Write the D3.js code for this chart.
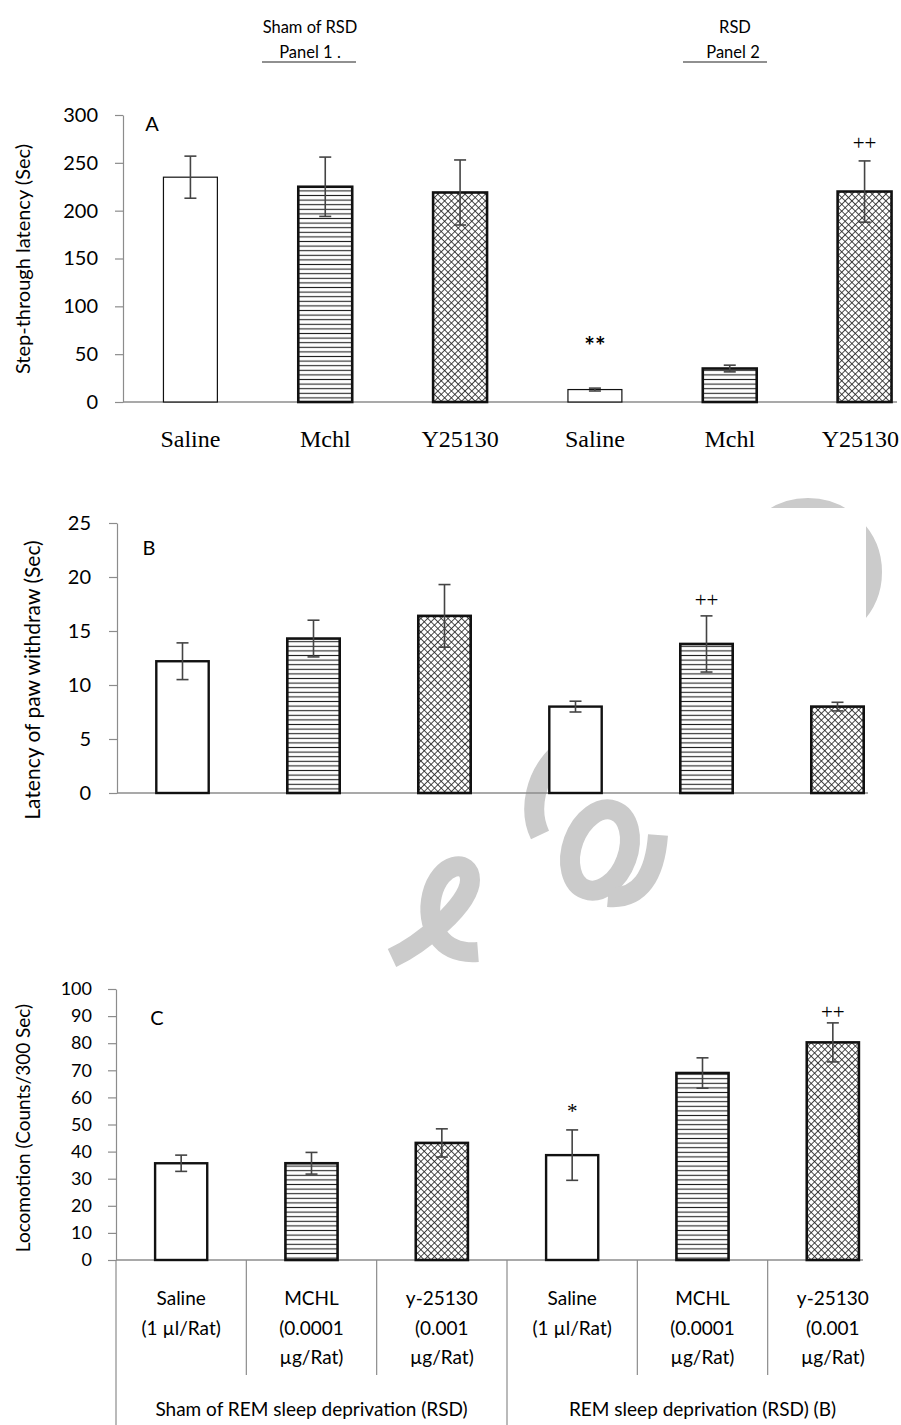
<!DOCTYPE html>
<html>
<head>
<meta charset="utf-8">
<script src="https://cdn.jsdelivr.net/npm/d3@7"></script>
<style>
  body { margin: 0; background: #fff; }
  text { fill: #000; }
</style>
</head>
<body>
<script>
// ---- data ----
const groupHeads = ["Sham of RSD", "RSD"];
const panelHeads = ["Panel 1", "Panel 2"];
const barKeys = ["sham-saline", "sham-mchl", "sham-y", "rsd-saline", "rsd-mchl", "rsd-y"];
const barFills = ["white", "hlines", "cross", "white", "hlines", "cross"];

// A: step-through latency
const latencyLabels = ["Saline", "Mchl", "Y25130", "Saline", "Mchl", "Y25130"];
const latencyMean = [235, 225, 219, 13, 35, 220];
const latencyErr = [22, 31, 34, 1.5, 3.5, 32];
const latencySig = ["", "", "", "**", "", "++"];
const latencySigAt = [0, 0, 0, 58, 0, 271];
const latencyTicks = [0, 50, 100, 150, 200, 250, 300];

// B: paw withdraw latency
const pawMean = [12.2, 14.3, 16.4, 8.0, 13.8, 8.0];
const pawErr = [1.7, 1.7, 2.9, 0.5, 2.6, 0.4];
const pawSig = ["", "", "", "", "++", ""];
const pawSigAt = [0, 0, 0, 0, 17.9, 0];
const pawTicks = [0, 5, 10, 15, 20, 25];

// C: locomotion
const locoLabels = [
  ["Saline", "(1 µl/Rat)"], ["MCHL", "(0.0001", "µg/Rat)"], ["y-25130", "(0.001", "µg/Rat)"],
  ["Saline", "(1 µl/Rat)"], ["MCHL", "(0.0001", "µg/Rat)"], ["y-25130", "(0.001", "µg/Rat)"]
];
const locoGroups = ["Sham of REM sleep deprivation (RSD)", "REM sleep deprivation (RSD) (B)"];
const locoMean = [35.7, 35.7, 43.2, 38.7, 69, 80.3];
const locoErr = [3, 4, 5.2, 9.3, 5.6, 7.2];
const locoSig = ["", "", "", "*", "", "++"];
const locoSigAt = [0, 0, 0, 55, 0, 91.5];
const locoTicks = d3.range(0, 101, 10);

const sans = "Lato, 'Open Sans', sans-serif";
const serif = "'Liberation Serif', 'Times New Roman', serif";

const svg = d3.select("body").append("svg")
    .attr("width", 901)
    .attr("height", 1425);

// patterns
const defs = svg.append("defs");
const hl = defs.append("pattern").attr("id", "hlines")
    .attr("patternUnits", "userSpaceOnUse").attr("width", 8).attr("height", 4.6);
hl.append("rect").attr("width", 8).attr("height", 4.6).attr("fill", "white");
hl.append("line").attr("x1", 0).attr("x2", 8).attr("y1", 2.3).attr("y2", 2.3)
    .attr("stroke", "#222").attr("stroke-width", 1.1);

const cr = defs.append("pattern").attr("id", "cross")
    .attr("patternUnits", "userSpaceOnUse").attr("width", 4.8).attr("height", 4.8)
    .attr("patternTransform", "rotate(45)");
cr.append("rect").attr("width", 4.8).attr("height", 4.8).attr("fill", "white");
cr.append("path").attr("d", "M0,0.4 H4.8 M0.4,0 V4.8")
    .attr("stroke", "#222").attr("stroke-width", 0.9);

const fillOf = f => f === "white" ? "white" : `url(#${f})`;

// ---- watermark (light grey letters behind the charts) ----
const wm = svg.append("g").attr("fill", "none").attr("stroke", "#cbcbcb").attr("stroke-width", 20);
wm.append("circle").attr("cx", 808).attr("cy", 572).attr("r", 64);
wm.append("path").attr("d", "M392,958 C420,945 470,905 470,880 C470,858 440,862 432,895 C425,925 440,955 478,952");
wm.append("path").attr("d", "M560,752 C535,775 528,810 540,835");
wm.append("ellipse").attr("cx", 600).attr("cy", 850).attr("rx", 28).attr("ry", 42)
    .attr("transform", "rotate(20,600,850)");
wm.append("path").attr("d", "M658,835 C655,875 640,900 608,897");
// chart area of B covers most of the big arc
svg.append("rect").attr("x", 100).attr("y", 508).attr("width", 766).attr("height", 236).attr("fill", "white");

// ---- header ----
const head = svg.append("g").attr("font-family", sans).attr("font-size", 16.5).attr("text-anchor", "middle");
const headX = [310, 735];
head.selectAll(".g").data(groupHeads).join("text")
    .attr("x", (d, i) => headX[i]).attr("y", 33).text(d => d);
head.selectAll(".p").data(panelHeads).join("text")
    .attr("x", (d, i) => headX[i] + (i ? -2 : 0)).attr("y", 58)
    .text((d, i) => i ? d : d + "   .");
head.selectAll("line").data(panelHeads).join("line")
    .attr("x1", (d, i) => headX[i] - (i ? 52 : 48)).attr("x2", (d, i) => headX[i] + (i ? 32 : 46))
    .attr("y1", 62).attr("y2", 62).attr("stroke", "#222").attr("stroke-width", 1.2);

// ---- generic bar panel ----
function drawPanel(p) {
  const g = svg.append("g");
  const y = d3.scaleLinear().domain([0, p.ticks[p.ticks.length - 1]]).range([p.y0, p.y1]);
  const x = d3.scaleBand().domain(barKeys).range([p.x0, p.x1]).paddingInner(0.6).paddingOuter(0.3);

  const yAxis = g.append("g").attr("transform", `translate(${p.x0},0)`)
      .call(d3.axisLeft(y).tickValues(p.ticks).tickSize(8).tickPadding(p.pad).tickSizeOuter(0));
  yAxis.selectAll("line").attr("stroke", "#8c8c8c").attr("stroke-width", 1.2);
  yAxis.select(".domain").attr("stroke", "#8c8c8c").attr("stroke-width", 1.2);
  yAxis.selectAll("text").attr("font-family", sans).attr("font-size", p.tickFont).attr("fill", "#222");

  // x axis line
  g.append("line").attr("x1", p.x0).attr("x2", p.xEnd).attr("y1", y(0)).attr("y2", y(0))
      .attr("stroke", "#8c8c8c").attr("stroke-width", 1.5);

  g.selectAll(".bar").data(p.values).join("rect")
      .attr("x", (d, i) => x(barKeys[i]))
      .attr("width", x.bandwidth())
      .attr("y", d => y(d))
      .attr("height", d => y(0) - y(d))
      .attr("fill", (d, i) => fillOf(barFills[i]))
      .attr("stroke", "#111")
      .attr("stroke-width", (d, i) => barFills[i] === "white" ? p.plainStroke : 2.6);

  const cx = i => x(barKeys[i]) + x.bandwidth() / 2;
  const err = g.append("g").attr("stroke", "#444").attr("stroke-width", 1.6);
  p.values.forEach((v, i) => {
    const e = p.errors[i];
    err.append("line").attr("x1", cx(i)).attr("x2", cx(i)).attr("y1", y(v + e)).attr("y2", y(v - e));
    [v + e, v - e].forEach(t => err.append("line")
        .attr("x1", cx(i) - 6).attr("x2", cx(i) + 6).attr("y1", y(t)).attr("y2", y(t)));
  });

  // significance marks
  const marks = p.sig.map((s, i) => ({ s, i, at: p.sigAt[i] })).filter(d => d.s !== "");
  g.selectAll(".sig").data(marks).join("text")
      .attr("x", d => cx(d.i))
      .attr("y", d => y(d.at))
      .attr("dy", "0.35em")
      .attr("text-anchor", "middle")
      .attr("font-family", d => d.s === "**" ? sans : serif)
      .attr("font-size", d => d.s === "**" ? 25 : 21)
      .attr("font-weight", d => d.s === "**" ? "bold" : "normal")
      .attr("fill", d => d.s === "**" ? "#000" : "#333")
      .text(d => d.s);

  g.append("text").attr("x", p.x0 + p.letterDx).attr("y", p.y1 + p.letterDy).attr("dy", "0.35em")
      .attr("text-anchor", "middle").attr("font-family", sans).attr("font-size", 20).attr("fill", "#222")
      .text(p.letter);

  g.append("text").attr("transform", `translate(${p.titleX},${p.titleY}) rotate(-90)`)
      .attr("dy", "0.35em").attr("text-anchor", "middle")
      .attr("font-family", sans).attr("font-size", p.titleFont).attr("fill", "#222")
      .text(p.title);

  return { g, x, y };
}

// Panel A
const A = drawPanel({
  values: latencyMean, errors: latencyErr, sig: latencySig, sigAt: latencySigAt, ticks: latencyTicks,
  y0: 402, y1: 115, x0: 123, x1: 932, xEnd: 897, pad: 17, tickFont: 20, plainStroke: 1.2,
  letter: "A", letterDx: 29, letterDy: 9,
  title: "Step-through latency (Sec)", titleX: 23, titleY: 259, titleFont: 20
});
A.g.selectAll(".cat").data(latencyLabels).join("text")
    .attr("y", 447)
    .attr("text-anchor", "middle")
    .attr("font-family", serif).attr("font-size", 24)
    .text(d => d)
    .attr("x", function (d, i) {
      // keep the label inside the picture
      const c = A.x(barKeys[i]) + A.x.bandwidth() / 2;
      const w = this.getComputedTextLength();
      return Math.min(c, 899 - w / 2);
    });

// Panel B
drawPanel({
  values: pawMean, errors: pawErr, sig: pawSig, sigAt: pawSigAt, ticks: pawTicks,
  y0: 793, y1: 523, x0: 117, x1: 903, xEnd: 868, pad: 18, tickFont: 20, plainStroke: 2.4,
  letter: "B", letterDx: 32, letterDy: 25,
  title: "Latency of paw withdraw (Sec)", titleX: 33, titleY: 680, titleFont: 21
});

// Panel C
const C = drawPanel({
  values: locoMean, errors: locoErr, sig: locoSig, sigAt: locoSigAt, ticks: locoTicks,
  y0: 1260, y1: 989, x0: 116, x1: 898, xEnd: 863, pad: 16, tickFont: 18, plainStroke: 2.4,
  letter: "C", letterDx: 41, letterDy: 29,
  title: "Locomotion (Counts/300 Sec)", titleX: 23, titleY: 1128, titleFont: 19
});

// multi-level category axis for C
const step = C.x.step();
const edges = d3.range(7).map(i => 116 + i * step);
C.g.selectAll(".sep").data(edges.slice(0, 6)).join("line")
    .attr("x1", d => d).attr("x2", d => d)
    .attr("y1", 1260).attr("y2", (d, i) => i % 3 === 0 ? 1425 : 1375)
    .attr("stroke", "#8c8c8c").attr("stroke-width", 1.2);

locoLabels.forEach((lines, i) => {
  const t = C.g.append("text")
      .attr("x", C.x(barKeys[i]) + C.x.bandwidth() / 2)
      .attr("y", 1305)
      .attr("text-anchor", "middle")
      .attr("font-family", sans).attr("font-size", 19).attr("fill", "#222");
  lines.forEach((l, k) => t.append("tspan")
      .attr("x", C.x(barKeys[i]) + C.x.bandwidth() / 2)
      .attr("dy", k ? 29.5 : 0).text(l));
});
C.g.selectAll(".grp").data(locoGroups).join("text")
    .attr("x", (d, i) => (edges[i * 3] + edges[i * 3 + 3]) / 2)
    .attr("y", 1416)
    .attr("text-anchor", "middle")
    .attr("font-family", sans).attr("font-size", 19).attr("fill", "#222")
    .text(d => d);
</script>
</body>
</html>
